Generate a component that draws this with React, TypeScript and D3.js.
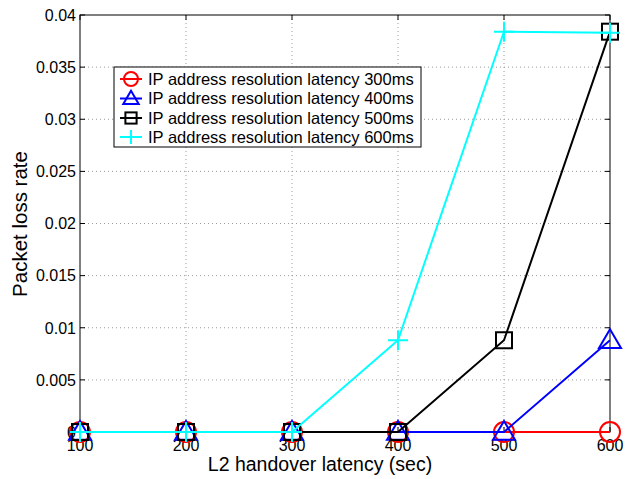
import React from 'react';
import * as d3 from 'd3';

const latencies = [100, 200, 300, 400, 500, 600];
const xTicks = [100, 200, 300, 400, 500, 600];
const yTicks = [0, 0.005, 0.01, 0.015, 0.02, 0.025, 0.03, 0.035, 0.04];
const yTickLabels = ['0', '0.005', '0.01', '0.015', '0.02', '0.025', '0.03', '0.035', '0.04'];

const loss300 = [0, 0, 0, 0, 0, 0];
const loss400 = [0, 0, 0, 0, 0, 0.0088];
const loss500 = [0, 0, 0, 0, 0.0088, 0.0384];
const loss600 = [0, 0, 0, 0.0088, 0.0384, 0.0383];

const seriesNames = [
  'IP address resolution latency 300ms',
  'IP address resolution latency 400ms',
  'IP address resolution latency 500ms',
  'IP address resolution latency 600ms',
];
const seriesColors = ['#ff0000', '#0000ff', '#000000', '#00ffff'];
const seriesMarkers = ['circle', 'triangle', 'square', 'plus'];
const seriesValues = [loss300, loss400, loss500, loss600];

const W = 626, H = 479;
const left = 80, right = 610, top = 15, bottom = 432;
const font = '"Liberation Sans", Arial, Helvetica, sans-serif';

const Marker = ({ type, x, y, color, k = 1 }) => {
  const sw = 2;
  if (type === 'circle') return <circle cx={x} cy={y} r={10 * k} fill="none" stroke={color} strokeWidth={sw} />;
  if (type === 'triangle') {
    const s = 11 * k;
    return <path d={`M${x},${y - s}L${x + s},${y + s * 0.7}L${x - s},${y + s * 0.7}Z`} fill="none" stroke={color} strokeWidth={sw} />;
  }
  if (type === 'square') return <rect x={x - 8 * k} y={y - 8 * k} width={16 * k} height={16 * k} fill="none" stroke={color} strokeWidth={sw} />;
  const s = 10 * k;
  return <path d={`M${x - s},${y}H${x + s}M${x},${y - s}V${y + s}`} stroke={color} strokeWidth={sw} fill="none" />;
};

export default function App() {
  const x = d3.scaleLinear().domain([100, 600]).range([left, right]);
  const y = d3.scaleLinear().domain([0, 0.04]).range([bottom, top]);
  const line = d3.line<number>().x((_, i) => x(latencies[i])).y(d => y(d));

  const legX = 114, legY = 67, legW = 307, legH = 80;
  const rowY = [79, 98.5, 118, 137];

  return (
    <svg width={W} height={H} style={{ position: 'absolute', left: 0, top: 0, background: '#fff' }}>
      <rect x={0} y={0} width={W} height={H} fill="#fff" />
      {/* grid */}
      <g stroke="#9a9a9a" strokeWidth={1} strokeDasharray="1,3">
        {xTicks.slice(1, -1).map(t => <line key={'gx' + t} x1={x(t)} x2={x(t)} y1={top} y2={bottom} />)}
        {yTicks.slice(1, -1).map(t => <line key={'gy' + t} x1={left} x2={right} y1={y(t)} y2={y(t)} />)}
      </g>
      {/* ticks */}
      <g stroke="#000" strokeWidth={1}>
        {xTicks.map(t => (
          <g key={'tx' + t}>
            <line x1={x(t)} x2={x(t)} y1={bottom} y2={bottom - 5} />
            <line x1={x(t)} x2={x(t)} y1={top} y2={top + 5} />
          </g>
        ))}
        {yTicks.map(t => (
          <g key={'ty' + t}>
            <line x1={left} x2={left + 5} y1={y(t)} y2={y(t)} />
            <line x1={right} x2={right - 5} y1={y(t)} y2={y(t)} />
          </g>
        ))}
      </g>
      <rect x={left} y={top} width={right - left} height={bottom - top} fill="none" stroke="#000" strokeWidth={1} />
      {/* tick labels */}
      <g fontFamily={font} fontSize={16} fill="#000">
        {yTicks.map((t, i) => (
          <text key={'ly' + t} x={left - 4} y={y(t)} dy="0.36em" textAnchor="end">{yTickLabels[i]}</text>
        ))}
        {xTicks.map(t => (
          <text key={'lx' + t} x={x(t)} y={bottom + 19} textAnchor="middle">{t}</text>
        ))}
      </g>
      <text x={320} y={471} textAnchor="middle" fontFamily={font} fontSize={19.5}>L2 handover latency (sec)</text>
      <text transform={`translate(27,224) rotate(-90)`} textAnchor="middle" fontFamily={font} fontSize={20.5}>Packet loss rate</text>
      {/* series */}
      {seriesValues.map((vals, s) => (
        <g key={'s' + s}>
          <path d={line(vals) || ''} fill="none" stroke={seriesColors[s]} strokeWidth={2} />
          {vals.map((v, i) => (
            <Marker key={i} type={seriesMarkers[s]} x={x(latencies[i])} y={y(v)} color={seriesColors[s]} />
          ))}
        </g>
      ))}
      {/* legend */}
      <rect x={legX} y={legY} width={legW} height={legH} fill="#fff" stroke="#000" strokeWidth={1} />
      {seriesNames.map((n, s) => (
        <g key={'lg' + s}>
          <line x1={120} x2={142} y1={rowY[s]} y2={rowY[s]} stroke={seriesColors[s]} strokeWidth={2} />
          <Marker type={seriesMarkers[s]} x={131} y={rowY[s]} color={seriesColors[s]} k={0.7} />
          <text x={148} y={rowY[s]} dy="0.36em" fontFamily={font} fontSize={16.5}>{n}</text>
        </g>
      ))}
    </svg>
  );
}
